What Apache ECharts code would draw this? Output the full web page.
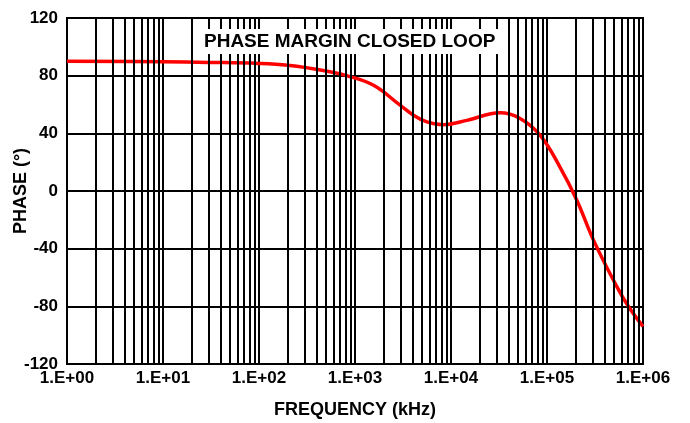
<!DOCTYPE html>
<html>
<head>
<meta charset="utf-8">
<script src="https://cdn.jsdelivr.net/npm/echarts@6/dist/echarts.min.js"></script>
<style>
	html, body { margin: 0; padding: 0; background: #fff; }
</style>
</head>
<body>
<div id="chart" style="width: 690px; height: 423px"></div>
<script>
// frequency in kHz and phase in degrees
const freq = [1, 10, 30, 100, 200, 500, 820, 1560, 2950, 4060, 5600, 8300, 14600, 32400, 52400, 84600, 136000, 204000, 304000, 532000, 703000, 1000000];
const phase = [90, 89.6, 89.2, 88.5, 87.2, 83.3, 80, 73.3, 59.5, 52.6, 48, 46, 49, 54.2, 50.3, 38.7, 16.8, -6.2, -33.9, -66.2, -80, -94];
const yTicks = [-120, -80, -40, 0, 40, 80, 120];
const decades = [1, 10, 100, 1000, 10000, 100000];

// minor grid lines 2..9 within each decade
const minorLines = [];
decades.forEach(function (d) {
	for (let k = 2; k <= 9; k++) minorLines.push({ xAxis: d * k });
});

const font = "'Liberation Sans', Arial, sans-serif";
const myChart = echarts.init(document.getElementById("chart"));
const option = {
	animation: false,
	title: {
		text: "PHASE MARGIN CLOSED LOOP",
		left: 199,
		top: 29,
		padding: [3, 5],
		backgroundColor: "#fff",
		textStyle: { fontFamily: font, fontWeight: "bold", fontSize: 19, color: "#000" }
	},
	grid: {
		left: 67,
		right: 47,
		top: 18,
		bottom: 59,
		outerBoundsMode: "none",
		containLabel: false,
		show: true,
		borderColor: "#000",
		borderWidth: 2
	},
	xAxis: {
		type: "log",
		logBase: 10,
		min: 1,
		max: 1000000,
		name: "FREQUENCY (kHz)",
		nameLocation: "middle",
		nameGap: 37,
		nameMoveOverlap: false,
		nameTextStyle: { fontFamily: font, fontWeight: "bold", fontSize: 18, color: "#000" },
		axisLine: { show: true, lineStyle: { color: "#000", width: 2 } },
		axisTick: { show: false },
		axisLabel: {
			fontFamily: font,
			fontWeight: "bold",
			fontSize: 17,
			color: "#000",
			margin: 6,
			formatter: function (v) {
				const e = Math.round(Math.log10(v));
				return "1.E+" + (e < 10 ? "0" + e : e);
			}
		},
		splitLine: { show: true, lineStyle: { color: "#000", width: 2 } }
	},
	yAxis: {
		type: "value",
		min: yTicks[0],
		max: yTicks[yTicks.length - 1],
		interval: 40,
		name: "PHASE (°)",
		nameLocation: "middle",
		nameRotate: 90,
		nameGap: 37,
		nameMoveOverlap: false,
		nameTextStyle: { fontFamily: font, fontWeight: "bold", fontSize: 18, color: "#000" },
		axisLine: { show: true, lineStyle: { color: "#000", width: 2 } },
		axisTick: { show: false },
		axisLabel: {
			fontFamily: font,
			fontWeight: "bold",
			fontSize: 17,
			color: "#000",
			margin: 9
		},
		splitLine: { show: true, lineStyle: { color: "#000", width: 2 } }
	},
	series: [
		{
			name: "minor",
			type: "line",
			data: [],
			z: 1,
			markLine: {
				silent: true,
				symbol: ["none", "none"],
				label: { show: false },
				lineStyle: { color: "#000", width: 2, type: "solid" },
				emphasis: { disabled: true },
				data: minorLines
			}
		},
		{
			name: "phase",
			type: "line",
			z: 3,
			smooth: 0.4,
			showSymbol: false,
			lineStyle: { color: "#ff0000", width: 3.5 },
			data: freq.map(function (f, i) { return [f, phase[i]]; })
		}
	]
};
myChart.setOption(option);
</script>
</body>
</html>
